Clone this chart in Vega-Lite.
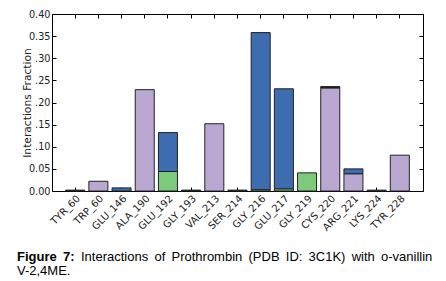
{
  "$schema": "https://vega.github.io/schema/vega-lite/v6.json",
  "width": 371,
  "height": 177,
  "autosize": {"type": "none"},
  "padding": {"left": 52, "top": 14, "right": 23, "bottom": 90},
  "background": "white",
  "config": {
    "view": {"stroke": "#000000", "strokeWidth": 1},
    "axis": {
      "grid": false,
      "domain": false,
      "tickColor": "#000000",
      "tickSize": -4,
      "labelColor": "#222222",
      "titleColor": "#222222",
      "labelFont": "DejaVu Sans",
      "titleFont": "DejaVu Sans"
    }
  },
  "title": {
    "text": "Figure \u20097:",
    "subtitle": [
      "\u200b\u00a0\u00a0\u00a0\u00a0\u00a0\u00a0\u00a0\u00a0\u00a0\u00a0\u00a0\u00a0\u00a0\u00a0\u00a0\u00a0\u00a0\u2009Interactions \u2009of \u2009Prothrombin \u2009(PDB \u2009ID: \u20093C1K) \u2009with \u2009o-vanillin",
      "V-2,4ME."
    ],
    "orient": "bottom",
    "anchor": "start",
    "frame": "group",
    "dx": -35,
    "offset": 19,
    "font": "Liberation Sans",
    "fontSize": 13,
    "fontWeight": "bold",
    "color": "#000000",
    "subtitleFont": "Liberation Sans",
    "subtitleFontSize": 13,
    "subtitleFontWeight": "normal",
    "subtitleColor": "#000000",
    "subtitlePadding": -13,
    "subtitleLineHeight": 14
  },
  "data": {
    "values": [
      {"residue": "TYR_60", "type": "Other", "fraction": 0.002},
      {"residue": "TRP_60", "type": "Hydrophobic", "fraction": 0.022},
      {"residue": "GLU_146", "type": "Water bridges", "fraction": 0.007},
      {"residue": "ALA_190", "type": "Hydrophobic", "fraction": 0.229},
      {"residue": "GLU_192", "type": "H-bonds", "fraction": 0.044},
      {"residue": "GLU_192", "type": "Water bridges", "fraction": 0.088},
      {"residue": "GLY_193", "type": "Other", "fraction": 0.002},
      {"residue": "VAL_213", "type": "Hydrophobic", "fraction": 0.152},
      {"residue": "SER_214", "type": "Other", "fraction": 0.002},
      {"residue": "GLY_216", "type": "H-bonds", "fraction": 0.003},
      {"residue": "GLY_216", "type": "Water bridges", "fraction": 0.355},
      {"residue": "GLU_217", "type": "H-bonds", "fraction": 0.005},
      {"residue": "GLU_217", "type": "Water bridges", "fraction": 0.226},
      {"residue": "GLY_219", "type": "H-bonds", "fraction": 0.041},
      {"residue": "CYS_220", "type": "Hydrophobic", "fraction": 0.233},
      {"residue": "CYS_220", "type": "Other", "fraction": 0.003},
      {"residue": "ARG_221", "type": "Hydrophobic", "fraction": 0.039},
      {"residue": "ARG_221", "type": "Water bridges", "fraction": 0.011},
      {"residue": "LYS_224", "type": "Water bridges", "fraction": 0.002},
      {"residue": "TYR_228", "type": "Hydrophobic", "fraction": 0.081}
    ]
  },
  "layer": [
    {
      "mark": {"type": "bar", "stroke": "#222222", "strokeWidth": 1},
      "encoding": {
        "x": {
          "field": "residue",
          "type": "nominal",
          "sort": ["TYR_60", "TRP_60", "GLU_146", "ALA_190", "GLU_192", "GLY_193", "VAL_213", "SER_214", "GLY_216", "GLU_217", "GLY_219", "CYS_220", "ARG_221", "LYS_224", "TYR_228"],
          "scale": {"paddingInner": 0.18, "paddingOuter": 0.59},
          "axis": {
            "orient": "bottom",
            "title": null,
            "labelAngle": -45,
            "labelFontSize": 10,
            "labelPadding": 6
          }
        },
        "y": {
          "field": "fraction",
          "type": "quantitative",
          "stack": "zero",
          "scale": {"domain": [0, 0.4], "nice": false},
          "axis": {
            "orient": "left",
            "title": "Interactions Fraction",
            "titleFontSize": 10.7,
            "titleFontWeight": "normal",
            "titlePadding": -4,
            "labelFontSize": 9.7,
            "labelPadding": 6,
            "format": ".2f",
            "values": [0, 0.05, 0.1, 0.15, 0.2, 0.25, 0.3, 0.35, 0.4],
            "labelExpr": "(datum.value > 0.09 && datum.value < 0.31) ? slice(datum.label, 1) : datum.label"
          }
        },
        "color": {
          "field": "type",
          "type": "nominal",
          "scale": {
            "domain": ["H-bonds", "Hydrophobic", "Other", "Water bridges"],
            "range": ["#7dca7d", "#baa8d2", "#111111", "#3d6cb0"]
          },
          "legend": null
        },
        "order": {"field": "type", "sort": "ascending"}
      }
    },
    {
      "mark": {"type": "bar", "opacity": 0},
      "encoding": {
        "x": {
          "field": "residue",
          "type": "nominal",
          "sort": ["TYR_60", "TRP_60", "GLU_146", "ALA_190", "GLU_192", "GLY_193", "VAL_213", "SER_214", "GLY_216", "GLU_217", "GLY_219", "CYS_220", "ARG_221", "LYS_224", "TYR_228"],
          "axis": {"orient": "top", "title": null, "labels": false}
        },
        "y": {
          "field": "fraction",
          "type": "quantitative",
          "stack": "zero",
          "axis": {
            "orient": "right",
            "title": null,
            "labels": false,
            "values": [0, 0.05, 0.1, 0.15, 0.2, 0.25, 0.3, 0.35, 0.4]
          }
        },
        "color": {"field": "type", "type": "nominal", "legend": null},
        "order": {"field": "type", "sort": "ascending"}
      }
    }
  ],
  "resolve": {"axis": {"x": "independent", "y": "independent"}}
}
